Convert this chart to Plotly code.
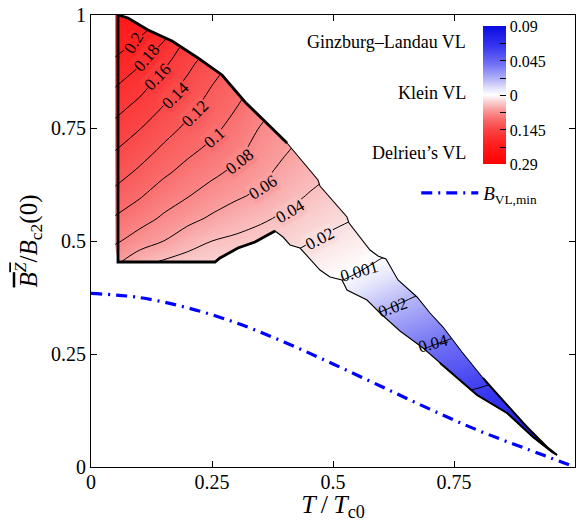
import numpy as np
import plotly.graph_objects as go

SERIF = "Liberation Serif"

# ---------------- data ----------------
# grid of the order-parameter difference field (positive: Delrieu side, negative: GL side)
T_nodes = [0.05, 0.10, 0.15, 0.20, 0.25, 0.30, 0.35, 0.40, 0.45, 0.50,
           0.55, 0.60, 0.65, 0.70, 0.75, 0.80, 0.85, 0.90, 0.95, 1.00]
# each column below runs from B = 1.00 down to B = 0.00 in steps of 0.05
B_nodes_desc = [1.00, 0.95, 0.90, 0.85, 0.80, 0.75, 0.70, 0.65, 0.60, 0.55, 0.50,
                0.45, 0.40, 0.35, 0.30, 0.25, 0.20, 0.15, 0.10, 0.05, 0.00]

col_t005 = [.225, .212, .198, .183, .168, .154, .140, .128, .114, .098, .083, .063, .045, .032, .022, .014, .008, .004, .002, .001, .000]
col_t010 = [.216, .200, .184, .169, .155, .141, .129, .116, .102, .088, .071, .044, .030, .020, .013, .008, .004, .002, .000, -.002, -.004]
col_t015 = [.200, .183, .166, .152, .140, .128, .116, .103, .090, .077, .060, .036, .022, .013, .007, .003, .000, -.002, -.004, -.006, -.008]
col_t020 = [.175, .158, .147, .136, .126, .116, .104, .093, .081, .066, .048, .031, .019, .011, .005, .000, -.003, -.006, -.009, -.012, -.015]
col_t025 = [.160, .148, .130, .121, .113, .105, .095, .084, .071, .057, .040, .027, .016, .008, .002, -.003, -.007, -.011, -.015, -.018, -.021]
col_t030 = [.135, .125, .117, .109, .101, .093, .085, .075, .063, .049, .036, .026, .016, .007, .000, -.006, -.012, -.017, -.022, -.026, -.030]
col_t035 = [.115, .108, .101, .095, .088, .079, .072, .065, .056, .043, .032, .022, .012, .003, -.005, -.012, -.019, -.025, -.031, -.036, -.041]
col_t040 = [.098, .092, .087, .082, .076, .068, .062, .054, .046, .037, .027, .017, .006, -.003, -.011, -.019, -.027, -.034, -.041, -.047, -.053]
col_t045 = [.085, .080, .075, .070, .065, .059, .052, .046, .039, .030, .021, .012, .003, -.006, -.014, -.023, -.032, -.040, -.048, -.055, -.062]
col_t050 = [.072, .068, .064, .060, .056, .052, .047, .040, .032, .024, .016, .007, -.0015, -.011, -.020, -.029, -.038, -.046, -.054, -.062, -.069]
col_t055 = [.062, .058, .054, .050, .046, .043, .040, .034, .028, .0195, .011, .0026, -.0061, -.015, -.0236, -.031, -.039, -.047, -.055, -.063, -.070]
col_t060 = [.052, .048, .044, .040, .036, .033, .030, .026, .020, .012, .0056, -.0029, -.0109, -.019, -.0272, -.035, -.043, -.051, -.059, -.066, -.073]
col_t065 = [.042, .039, .035, .031, .028, .025, .022, .018, .014, .009, .003, -.005, -.0149, -.0228, -.031, -.0391, -.047, -.055, -.062, -.069, -.076]
col_t070 = [.032, .029, .026, .023, .020, .017, .014, .010, .006, .001, -.005, -.012, -.019, -.0264, -.0345, -.0427, -.050, -.058, -.065, -.072, -.078]
col_t075 = [.024, .021, .018, .015, .012, .009, .006, .002, -.002, -.007, -.013, -.019, -.025, -.030, -.0379, -.0459, -.054, -.062, -.069, -.075, -.080]
col_t080 = [.016, .013, .010, .007, .004, .001, -.003, -.007, -.012, -.017, -.023, -.029, -.034, -.039, -.043, -.047, -.0563, -.0635, -.077, -.080, -.083]
col_t085 = [.008, .005, .002, -.001, -.004, -.008, -.012, -.017, -.022, -.027, -.032, -.037, -.042, -.046, -.050, -.054, -.0592, -.0659, -.0726, -.080, -.085]
col_t090 = [.000, -.003, -.006, -.009, -.013, -.017, -.021, -.026, -.031, -.036, -.041, -.046, -.050, -.054, -.058, -.061, -.064, -.068, -.0748, -.0814, -.087]
col_t095 = [-.008, -.011, -.014, -.018, -.022, -.026, -.030, -.035, -.040, -.045, -.050, -.054, -.058, -.062, -.065, -.068, -.071, -.074, -.077, -.0835, -.090]
col_t100 = [-.015, -.018, -.021, -.025, -.029, -.033, -.037, -.042, -.047, -.052, -.056, -.060, -.064, -.067, -.070, -.073, -.076, -.079, -.082, -.086, -.090]

# outline of the region where the vortex-lattice solution exists
region_T = [0.0558, 0.0764, 0.1178, 0.1674, 0.2211, 0.2707, 0.3182, 0.3595, 0.4050,
            0.4690, 0.4731, 0.5289, 0.5331, 0.5764, 0.5930, 0.6095, 0.6343, 0.6736,
            0.7004, 0.7273, 0.7665, 0.8099, 0.8244, 0.9008, 0.9421, 0.9628,
            0.9525, 0.9132, 0.8595, 0.7975, 0.7624, 0.7211, 0.6860, 0.6384, 0.5971,
            0.5702, 0.5289, 0.5186, 0.4938, 0.4731, 0.4463, 0.4318, 0.4112, 0.3967,
            0.3802, 0.3388, 0.3037, 0.2665, 0.2562, 0.0558]
region_B = [1.0000, 0.9934, 0.9668, 0.9425, 0.9049, 0.8673, 0.8075, 0.7633, 0.7168,
            0.6350, 0.6217, 0.5531, 0.5398, 0.4801, 0.4668, 0.4602, 0.4137, 0.3761,
            0.3407, 0.3097, 0.2544, 0.1969, 0.1792, 0.0885, 0.0442, 0.0265,
            0.0332, 0.0664, 0.1195, 0.1593, 0.1925, 0.2301, 0.2633, 0.3009, 0.3407,
            0.3695, 0.3916, 0.4137, 0.4204, 0.4358, 0.4690, 0.4845, 0.4912, 0.5088,
            0.5221, 0.4978, 0.4845, 0.4624, 0.4535, 0.4535]

# contour-line labels: level, side of the colour bar, position, text angle
lab_level = [0.20, 0.18, 0.16, 0.14, 0.12, 0.10, 0.08, 0.06, 0.04, 0.02, 0.001, 0.02, 0.04]
lab_side = ["r", "r", "r", "r", "r", "r", "r", "r", "r", "r", "b", "b", "b"]
lab_T = [0.087, 0.116, 0.139, 0.174, 0.215, 0.256, 0.308, 0.355, 0.411, 0.474, 0.554, 0.624, 0.707]
lab_B = [0.938, 0.905, 0.863, 0.823, 0.783, 0.728, 0.675, 0.619, 0.566, 0.505, 0.433, 0.352, 0.274]
lab_angle = [-58, -50, -46, -45, -45, -42, -38, -33, -30, -28, -16, -20, -15]

# lower bound B_VL,min(T)
vl_T = [0.0, 0.1, 0.2, 0.3, 0.4, 0.5, 0.6, 0.7, 0.8, 0.9, 1.0]
vl_B = [0.384, 0.375, 0.352, 0.319, 0.276, 0.228, 0.178, 0.128, 0.081, 0.040, 0.0]

# colour-bar limits and ticks (GL side on top, Delrieu side at the bottom)
blue_max = 0.09
red_max = 0.29
cbar_labels = ["0.09", "0.045", "0", "0.145", "0.29"]

axis_ticks = [0, 0.25, 0.5, 0.75, 1]
axis_ticklabels = ["0", "0.25", "0.5", "0.75", "1"]

# ---------------- build field ----------------
cols = [col_t005, col_t010, col_t015, col_t020, col_t025, col_t030, col_t035,
        col_t040, col_t045, col_t050, col_t055, col_t060, col_t065, col_t070,
        col_t075, col_t080, col_t085, col_t090, col_t095, col_t100]
field = np.column_stack(cols)[::-1]          # rows now in ascending B
B_nodes = B_nodes_desc[::-1]

# piecewise normalisation: each half of the colour bar spans its own range
zc = np.where(field > 0, -field / red_max, -field / blue_max)

red_stops = [(0.0, (255, 255, 255)), (0.07, (250, 222, 222)), (0.2, (250, 163, 163)),
             (0.35, (250, 108, 108)), (0.5, (250, 68, 68)), (0.7, (255, 32, 32)),
             (1.0, (255, 0, 0))]
blue_stops = [(0.0, (255, 255, 255)), (0.1, (226, 226, 252)), (0.22, (182, 182, 248)),
              (0.45, (112, 112, 245)), (0.7, (55, 55, 240)), (1.0, (10, 10, 225))]
cs = []
for n, c in reversed(red_stops):
    cs.append([0.5 - n / 2, "rgb(%d,%d,%d)" % c])
for n, c in blue_stops[1:]:
    cs.append([0.5 + n / 2, "rgb(%d,%d,%d)" % c])


def stop_colour(stops, n):
    """Colour of a one-sided colour ramp at normalised level n."""
    for (n0, c0), (n1, c1) in zip(stops[:-1], stops[1:]):
        if n0 <= n <= n1:
            f = (n - n0) / (n1 - n0)
            return "rgb(%d,%d,%d)" % tuple(round(a + f * (b - a)) for a, b in zip(c0, c1))
    return "rgb(%d,%d,%d)" % stops[-1][1]


cb_vals = [1.0, 0.5, 0.0, -0.5, -1.0, 0.75, 0.25, -0.25, -0.75]
cb_text = cbar_labels + ["", "", "", ""]

fig = go.Figure()

fig.add_trace(go.Contour(
    x=T_nodes, y=B_nodes, z=zc, zmin=-1, zmax=1, colorscale=cs,
    contours=dict(coloring="heatmap", showlines=False),
    line=dict(width=0), hoverinfo="skip", showlegend=False,
    colorbar=dict(x=0.81, xanchor="left", y=0.822, yanchor="middle",
                  len=138, lenmode="pixels", thickness=23, thicknessmode="pixels",
                  outlinewidth=0, ticks="inside", ticklen=6, tickcolor="black",
                  tickwidth=1, tickvals=cb_vals, ticktext=cb_text,
                  tickfont=dict(family=SERIF, size=16, color="black"),
                  xpad=0, ypad=0),
))

line_style = dict(color="black", width=1, smoothing=0.9)
fig.add_trace(go.Contour(
    x=T_nodes, y=B_nodes, z=field, showscale=False, hoverinfo="skip", showlegend=False,
    contours=dict(coloring="none", start=0.02, end=0.2, size=0.02, showlabels=False),
    line=line_style,
))
fig.add_trace(go.Contour(
    x=T_nodes, y=B_nodes, z=-field, showscale=False, hoverinfo="skip", showlegend=False,
    contours=dict(coloring="none", start=0.02, end=0.08, size=0.02, showlabels=False),
    line=line_style,
))
fig.add_trace(go.Contour(
    x=T_nodes, y=B_nodes, z=-field, showscale=False, hoverinfo="skip", showlegend=False,
    contours=dict(coloring="none", start=0.001, end=0.001, size=0.01, showlabels=False),
    line=line_style,
))

# white cover outside the region (outer frame plus the region traversed backwards)
frame_T = [-0.05, 1.05, 1.05, -0.05, -0.05]
frame_B = [1.05, 1.05, -0.05, -0.05, 1.05]
mask_T = frame_T + region_T[::-1] + [region_T[0], -0.05]
mask_B = frame_B + region_B[::-1] + [region_B[0], 1.05]
fig.add_trace(go.Scatter(x=mask_T, y=mask_B, mode="lines", fill="toself",
                         fillcolor="white", line=dict(width=0, color="white"),
                         hoverinfo="skip", showlegend=False))

# region outline: thin everywhere, heavier on the left part and the narrow tail
fig.add_trace(go.Scatter(x=region_T + [region_T[0]], y=region_B + [region_B[0]],
                         mode="lines", line=dict(color="black", width=1.1),
                         hoverinfo="skip", showlegend=False))
heavy_T = region_T[44:] + region_T[:9]
heavy_B = region_B[44:] + region_B[:9]
fig.add_trace(go.Scatter(x=heavy_T, y=heavy_B, mode="lines",
                         line=dict(color="black", width=2.8),
                         hoverinfo="skip", showlegend=False))
fig.add_trace(go.Scatter(x=region_T[21:32], y=region_B[21:32], mode="lines",
                         line=dict(color="black", width=2),
                         hoverinfo="skip", showlegend=False))

fig.add_trace(go.Scatter(x=vl_T, y=vl_B, mode="lines",
                         line=dict(color="rgb(0,0,255)", width=3.2,
                                   dash="11px,6px,2px,6px", shape="spline"),
                         name="<i>B</i><sub>VL,min</sub>", hoverinfo="skip",
                         showlegend=True))

# contour labels sit on their lines; in the wide red part they are backed by the
# fill colour of their level, in the narrow tail they are drawn straight over it
for lv, sd, tx, by, ang in zip(lab_level, lab_side, lab_T, lab_B, lab_angle):
    bg = stop_colour(red_stops, lv / red_max) if sd == "r" else "rgba(0,0,0,0)"
    fig.add_annotation(x=tx, y=by, xref="x", yref="y", text=f"{lv:g}", showarrow=False,
                       textangle=ang, bgcolor=bg, borderpad=0,
                       font=dict(family=SERIF, size=17, color="black"))

ann_font = dict(family=SERIF, size=18, color="black")
for txt, yv in [("Ginzburg\u2013Landau VL", 0.940), ("Klein VL", 0.827),
                ("Delrieu\u2019s VL", 0.695)]:
    fig.add_annotation(x=0.779, y=yv, xref="x", yref="y", text=txt, showarrow=False,
                       xanchor="right", yanchor="middle", font=ann_font)

axis_common = dict(range=[0, 1], tickvals=axis_ticks, ticktext=axis_ticklabels,
                   showline=True, linecolor="black", linewidth=1, mirror="ticks",
                   ticks="inside", ticklen=6, tickcolor="black", showgrid=False,
                   zeroline=False, tickfont=dict(family=SERIF, size=20, color="black"))

fig.update_layout(
    width=577, height=522,
    margin=dict(l=91, r=2, t=15, b=55),
    paper_bgcolor="white", plot_bgcolor="white",
    xaxis=dict(axis_common, ticklabelstandoff=-3,
               title=dict(text="<i>T</i>\u2009/\u2009<i>T</i><sub>c0</sub>",
                          font=dict(family=SERIF, size=26, color="black"), standoff=5)),
    yaxis=dict(axis_common,
               title=dict(text="<span style='text-decoration:overline'><i>B<sup>Z</sup></i></span>"
                               "/<i>B</i><sub>c2</sub>(0)",
                          font=dict(family=SERIF, size=25, color="black"), standoff=6)),
    legend=dict(x=0.672, y=0.606, xanchor="left", yanchor="middle",
                bgcolor="rgba(0,0,0,0)", font=dict(family=SERIF, size=19, color="black"),
                itemwidth=57),
    showlegend=True,
)

fig.write_html("out.html")
